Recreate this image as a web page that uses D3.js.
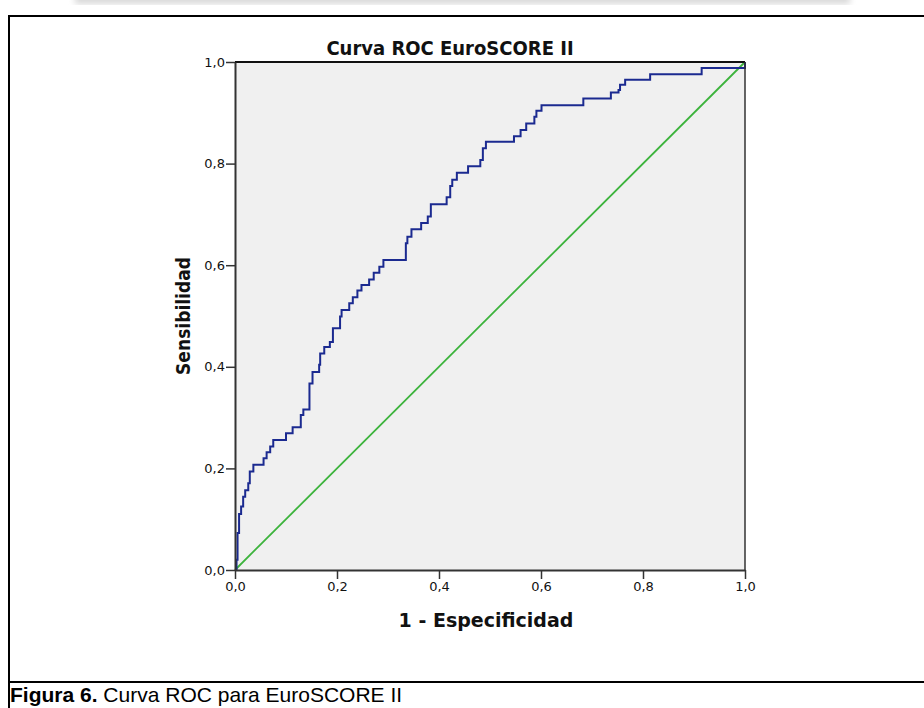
<!DOCTYPE html>
<html><head><meta charset="utf-8">
<script src="https://cdn.jsdelivr.net/npm/d3@7"></script>
<style>body{margin:0;background:#fff}svg{display:block}</style>
</head><body>
<script>
// ROC curve breakpoints (1 - especificidad, sensibilidad), step after
const fpr = [0,0.003,0.005,0.008,0.012,0.016,0.02,0.026,0.029,0.036,0.056,0.062,0.069,0.075,0.1,0.113,0.129,0.134,0.146,0.152,0.165,0.167,0.175,0.186,0.192,0.206,0.209,0.224,0.231,0.240,0.248,0.263,0.272,0.283,0.291,0.335,0.338,0.346,0.365,0.378,0.384,0.415,0.422,0.426,0.435,0.457,0.481,0.486,0.492,0.547,0.560,0.571,0.587,0.591,0.601,0.683,0.737,0.752,0.755,0.765,0.814,0.915,1.0];
const tpr = [0,0.02,0.073,0.11,0.125,0.144,0.157,0.171,0.194,0.207,0.22,0.232,0.243,0.256,0.269,0.281,0.305,0.316,0.367,0.39,0.404,0.426,0.439,0.449,0.476,0.499,0.512,0.525,0.537,0.550,0.561,0.572,0.585,0.597,0.610,0.643,0.656,0.671,0.683,0.696,0.720,0.734,0.756,0.768,0.782,0.795,0.807,0.830,0.843,0.854,0.866,0.879,0.892,0.904,0.915,0.928,0.940,0.945,0.955,0.965,0.976,0.988,1.0];
const refLine = [[0,0],[1,1]];
const tickValues = [0,0.2,0.4,0.6,0.8,1.0];
const tickLabels = ["0,0","0,2","0,4","0,6","0,8","1,0"];
const title = "Curva ROC EuroSCORE II";
const xTitle = "1 - Especificidad";
const yTitle = "Sensibilidad";

const W = 924, H = 708;
const svg = d3.select("body").append("svg").attr("width", W).attr("height", H);
svg.append("rect").attr("width", W).attr("height", H).attr("fill", "#fff");

// top shadow strip
const defs = svg.append("defs");
defs.append("filter").attr("id","blur").append("feGaussianBlur").attr("stdDeviation", 3);
svg.append("rect").attr("x", 75).attr("y", -6).attr("width", 775).attr("height", 10)
  .attr("fill", "#d8d8d8").attr("filter", "url(#blur)");

// outer frame
svg.append("path").attr("d", "M9,708 V16 H924").attr("fill","none").attr("stroke","#000").attr("stroke-width",2);
svg.append("line").attr("x1",9).attr("x2",924).attr("y1",682).attr("y2",682).attr("stroke","#000").attr("stroke-width",2);

const m = {l:235, r:745, t:62, b:570};
const x = d3.scaleLinear().domain([0,1]).range([m.l, m.r]);
const y = d3.scaleLinear().domain([0,1]).range([m.b, m.t]);

svg.append("rect").attr("x", m.l).attr("y", m.t).attr("width", m.r-m.l).attr("height", m.b-m.t).attr("fill", "#f0f0f0");

// reference diagonal
svg.append("path").datum(refLine)
  .attr("d", d3.line().x(d=>x(d[0])).y(d=>y(d[1])))
  .attr("fill","none").attr("stroke","#3cb33c").attr("stroke-width",1.8);

// ROC curve
const pts = fpr.map((f,i)=>[f,tpr[i]]);
svg.append("path").datum(pts)
  .attr("d", d3.line().x(d=>x(d[0])).y(d=>y(d[1])).curve(d3.curveStepAfter))
  .attr("fill","none").attr("stroke","#1b2a90").attr("stroke-width",2).attr("stroke-linejoin","miter");

// frame of plot
svg.append("line").attr("x1",m.l).attr("x2",m.r).attr("y1",m.t).attr("y2",m.t).attr("stroke","#111").attr("stroke-width",2);
svg.append("line").attr("x1",m.r).attr("x2",m.r).attr("y1",m.t).attr("y2",m.b).attr("stroke","#333").attr("stroke-width",1.5);

const fmt = d => tickLabels[tickValues.indexOf(d)];
const xAxis = svg.append("g").attr("transform", `translate(0,${m.b})`)
  .call(d3.axisBottom(x).tickValues(tickValues).tickFormat(fmt).tickSize(9).tickSizeOuter(0).tickPadding(3));
const yAxis = svg.append("g").attr("transform", `translate(${m.l},0)`)
  .call(d3.axisLeft(y).tickValues(tickValues).tickFormat(fmt).tickSize(9).tickSizeOuter(0).tickPadding(1));
[xAxis, yAxis].forEach(a => {
  a.select(".domain").attr("stroke","#333").attr("stroke-width",2);
  a.selectAll(".tick line").attr("stroke","#333").attr("stroke-width",1.5);
  a.selectAll(".tick text").attr("fill","#111").style("font-family","'DejaVu Sans',sans-serif").style("font-size","13px");
});

svg.append("text").attr("x", 450).attr("y", 55).attr("text-anchor","middle")
  .style("font-family","'DejaVu Sans Condensed','DejaVu Sans',sans-serif").style("font-weight","bold").style("font-size","20px")
  .attr("fill","#111").text(title);
svg.append("text").attr("x", 486).attr("y", 627).attr("text-anchor","middle")
  .style("font-family","'DejaVu Sans',sans-serif").style("font-weight","bold").style("font-size","19px")
  .attr("fill","#111").text(xTitle);
svg.append("text").attr("transform", "translate(190,316) rotate(-90)").attr("text-anchor","middle")
  .style("font-family","'DejaVu Sans Condensed','DejaVu Sans',sans-serif").style("font-weight","bold").style("font-size","19px")
  .attr("fill","#111").text(yTitle);

const cap = svg.append("text").attr("x", 10).attr("y", 702)
  .style("font-family","'Liberation Sans',Arial,sans-serif").style("font-size","21px").attr("fill","#000");
cap.append("tspan").style("font-weight","bold").text("Figura 6.");
cap.append("tspan").text(" Curva ROC para EuroSCORE II");
</script>
</body></html>
